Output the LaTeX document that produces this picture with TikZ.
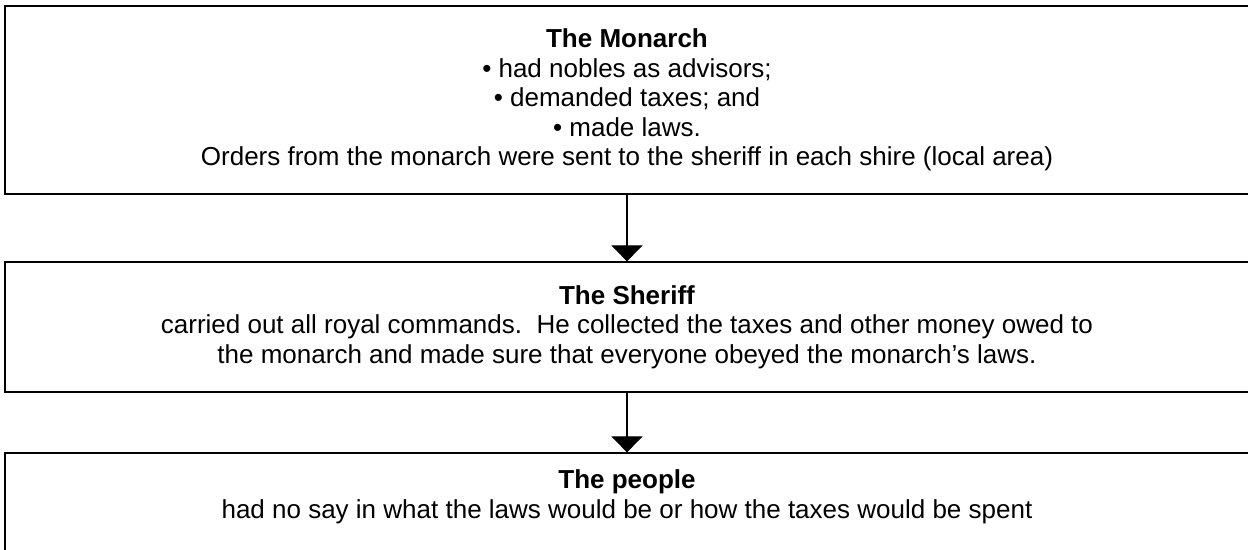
\documentclass[tikz,border=0pt]{standalone}
\usepackage{fontspec}
\setmainfont{Liberation Sans}
\usetikzlibrary{arrows.meta}
\begin{document}
\begin{tikzpicture}[x=1bp,y=-1bp,
  txt/.style={align=center, inner sep=0pt, font=\fontsize{26bp}{29.5bp}\selectfont},
  box/.style={txt, draw, rectangle, minimum width=1244bp},
  conn/.style={line width=1.1bp, -{Triangle[width=31bp,length=16bp]}}]
\useasboundingbox (0,0) rectangle (1248,550);
\node[box, line width=2.6bp, minimum height=188bp] (monarch) at (627,100)
  {\textbf{The Monarch}\\
   • had nobles as advisors;\\
   • demanded taxes; and\\
   • made laws.\\
   Orders from the monarch were sent to the sheriff in each shire (local area)};
\node[box, line width=1.2bp, minimum height=130bp] (sheriff) at (627,327)
  {\textbf{The Sheriff}\\
   carried out all royal commands.\ \ He collected the taxes and other money owed to\\
   the monarch and made sure that everyone obeyed the monarch’s laws.};
\node[box, line width=1.2bp, minimum height=130bp] (people) at (627,518) {};
\node[txt] (peopletext) at (627,497)
  {\textbf{The people}\\
   had no say in what the laws would be or how the taxes would be spent};
\draw[conn] (monarch.south) -- (sheriff.north);
\draw[conn] (sheriff.south) -- (people.north);
\end{tikzpicture}
\end{document}
